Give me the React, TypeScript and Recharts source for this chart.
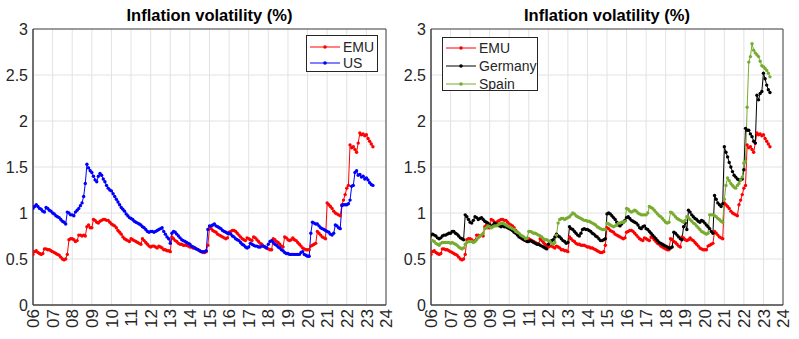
import React from 'react';
import { LineChart, Line, XAxis, YAxis, CartesianGrid, Legend, ReferenceArea } from 'recharts';

// Monthly observations, Jan 2006 .. May 2023
const START_YEAR = 2006;
const xTicks = [2006, 2007, 2008, 2009, 2010, 2011, 2012, 2013, 2014, 2015, 2016, 2017, 2018, 2019, 2020, 2021, 2022, 2023, 2024];
const yTicks = [0, 0.5, 1, 1.5, 2, 2.5, 3];
const TITLE = 'Inflation volatility (%)';

const emu = [
  0.55, 0.58, 0.59, 0.57, 0.56, 0.55, 0.56, 0.61, 0.61, 0.60, 0.60, 0.59,
  0.58, 0.57, 0.56, 0.55, 0.54, 0.52, 0.50, 0.49, 0.50, 0.55, 0.71, 0.72,
  0.72, 0.71, 0.69, 0.70, 0.76, 0.76, 0.75, 0.76, 0.75, 0.85, 0.87, 0.84,
  0.84, 0.93, 0.92, 0.90, 0.89, 0.91, 0.92, 0.93, 0.93, 0.92, 0.92, 0.90,
  0.88, 0.87, 0.86, 0.84, 0.81, 0.79, 0.77, 0.74, 0.72, 0.71, 0.70, 0.69,
  0.72, 0.71, 0.70, 0.69, 0.68, 0.67, 0.66, 0.72, 0.70, 0.68, 0.66, 0.64,
  0.63, 0.64, 0.64, 0.63, 0.62, 0.64, 0.63, 0.62, 0.60, 0.60, 0.59, 0.59,
  0.58, 0.74, 0.72, 0.70, 0.69, 0.67, 0.66, 0.66, 0.65, 0.65, 0.65, 0.64,
  0.63, 0.63, 0.62, 0.62, 0.61, 0.60, 0.59, 0.58, 0.57, 0.57, 0.58, 0.65,
  0.84, 0.83, 0.81, 0.80, 0.79, 0.77, 0.76, 0.75, 0.74, 0.73, 0.72, 0.73,
  0.79, 0.80, 0.81, 0.81, 0.80, 0.78, 0.76, 0.74, 0.72, 0.71, 0.70, 0.73,
  0.72, 0.71, 0.70, 0.74, 0.73, 0.71, 0.69, 0.67, 0.66, 0.64, 0.63, 0.62,
  0.61, 0.60, 0.60, 0.72, 0.71, 0.69, 0.68, 0.66, 0.64, 0.63, 0.74, 0.73,
  0.71, 0.70, 0.71, 0.73, 0.71, 0.70, 0.68, 0.66, 0.64, 0.62, 0.61, 0.60,
  0.60, 0.60, 0.64, 0.65, 0.66, 0.67, 0.80, 0.78, 0.76, 0.74, 0.73, 0.72,
  1.11, 1.09, 1.07, 1.05, 1.02, 1.00, 0.99, 0.98, 0.97, 1.09, 1.14, 1.20,
  1.27, 1.30, 1.74, 1.71, 1.72, 1.69, 1.66, 1.76, 1.87, 1.85, 1.86, 1.84,
  1.85, 1.81, 1.78, 1.75, 1.72,
];

const us = [
  1.05, 1.07, 1.09, 1.07, 1.05, 1.04, 1.02, 1.01, 1.06, 1.05, 1.03, 1.02,
  1.00, 0.99, 0.97, 0.96, 0.95, 0.93, 0.91, 0.90, 0.88, 1.01, 1.00, 0.98,
  0.98, 0.97, 1.01, 1.03, 1.05, 1.08, 1.11, 1.18, 1.32, 1.53, 1.49, 1.46,
  1.44, 1.40, 1.36, 1.34, 1.40, 1.43, 1.41, 1.37, 1.34, 1.30, 1.27, 1.25,
  1.24, 1.21, 1.18, 1.15, 1.12, 1.09, 1.06, 1.04, 1.02, 0.99, 0.97, 0.95,
  0.94, 0.93, 0.91, 0.90, 0.89, 0.88, 0.87, 0.85, 0.84, 0.82, 0.80, 0.79,
  0.80, 0.80, 0.79, 0.80, 0.81, 0.82, 0.83, 0.84, 0.80, 0.77, 0.74, 0.72,
  0.67, 0.78, 0.80, 0.79, 0.77, 0.75, 0.73, 0.71, 0.70, 0.69, 0.68, 0.67,
  0.66, 0.64, 0.63, 0.62, 0.61, 0.60, 0.59, 0.58, 0.58, 0.58, 0.59, 0.82,
  0.86, 0.86, 0.87, 0.88, 0.86, 0.85, 0.84, 0.83, 0.81, 0.80, 0.79, 0.78,
  0.78, 0.77, 0.75, 0.74, 0.72, 0.71, 0.70, 0.68, 0.66, 0.65, 0.63, 0.62,
  0.63, 0.67, 0.66, 0.65, 0.64, 0.64, 0.63, 0.63, 0.64, 0.64, 0.63, 0.62,
  0.66, 0.69, 0.70, 0.68, 0.66, 0.65, 0.63, 0.62, 0.60, 0.59, 0.57, 0.56,
  0.56, 0.55, 0.55, 0.55, 0.55, 0.55, 0.55, 0.55, 0.57, 0.58, 0.55, 0.54,
  0.53, 0.53, 0.78, 0.90, 0.89, 0.88, 0.88, 0.86, 0.84, 0.83, 0.82, 0.81,
  0.80, 0.79, 0.77, 0.76, 0.78, 0.87, 0.86, 0.84, 0.83, 1.08, 1.09, 1.09,
  1.09, 1.10, 1.14, 1.29, 1.30, 1.44, 1.46, 1.41, 1.42, 1.39, 1.40, 1.37,
  1.38, 1.36, 1.33, 1.31, 1.30,
];

const germany = [
  0.76, 0.77, 0.76, 0.75, 0.73, 0.72, 0.73, 0.75, 0.76, 0.76, 0.77, 0.78,
  0.78, 0.80, 0.80, 0.78, 0.77, 0.75, 0.73, 0.72, 0.71, 0.98, 0.96, 0.93,
  0.90, 0.89, 0.92, 0.96, 0.95, 0.93, 0.94, 0.95, 0.93, 0.91, 0.90, 0.89,
  0.87, 0.85, 0.87, 0.89, 0.88, 0.87, 0.86, 0.85, 0.86, 0.85, 0.85, 0.84,
  0.83, 0.82, 0.81, 0.79, 0.78, 0.76, 0.74, 0.73, 0.72, 0.71, 0.70, 0.69,
  0.69, 0.70, 0.69, 0.68, 0.67, 0.66, 0.66, 0.65, 0.64, 0.63, 0.62, 0.61,
  0.66, 0.68, 0.70, 0.71, 0.74, 0.77, 0.75, 0.74, 0.72, 0.70, 0.69, 0.67,
  0.68, 0.85, 0.83, 0.82, 0.80, 0.78, 0.76, 0.75, 0.78, 0.82, 0.83, 0.82,
  0.82, 0.81, 0.80, 0.78, 0.77, 0.75, 0.74, 0.72, 0.70, 0.70, 0.71, 0.72,
  0.99, 1.00, 0.99, 0.97, 0.95, 0.93, 0.90, 0.87, 0.86, 0.88, 0.90, 0.92,
  0.95, 0.96, 0.94, 0.92, 0.91, 0.90, 0.89, 0.87, 0.84, 0.83, 0.85, 0.86,
  0.83, 0.82, 0.80, 0.78, 0.76, 0.74, 0.72, 0.70, 0.68, 0.67, 0.66, 0.65,
  0.64, 0.63, 0.62, 0.62, 0.63, 0.79, 0.78, 0.76, 0.74, 0.72, 0.71, 0.85,
  0.89, 0.82, 1.03, 1.01, 0.98, 0.96, 0.94, 0.93, 0.91, 0.90, 0.92, 0.91,
  0.89, 0.87, 0.85, 0.83, 0.80, 0.78, 1.19, 1.15, 1.11, 1.09, 1.07, 1.10,
  1.72, 1.66, 1.61, 1.55, 1.50, 1.45, 1.41, 1.39, 1.37, 1.36, 1.36, 1.37,
  1.47, 1.92, 1.90, 1.90, 1.86, 1.83, 1.78, 1.76, 2.28, 2.23, 2.30, 2.32,
  2.52, 2.46, 2.39, 2.34, 2.31,
];

const spain = [
  0.71, 0.70, 0.69, 0.67, 0.66, 0.65, 0.67, 0.68, 0.68, 0.68, 0.68, 0.68,
  0.67, 0.68, 0.67, 0.66, 0.65, 0.63, 0.62, 0.61, 0.62, 0.66, 0.68, 0.69,
  0.69, 0.69, 0.68, 0.69, 0.71, 0.73, 0.75, 0.76, 0.78, 0.83, 0.84, 0.86,
  0.85, 0.84, 0.85, 0.86, 0.86, 0.87, 0.88, 0.89, 0.89, 0.88, 0.87, 0.86,
  0.85, 0.84, 0.83, 0.82, 0.80, 0.79, 0.78, 0.76, 0.75, 0.74, 0.72, 0.73,
  0.80, 0.80, 0.79, 0.78, 0.78, 0.77, 0.76, 0.75, 0.74, 0.72, 0.71, 0.71,
  0.70, 0.69, 0.67, 0.66, 0.68, 0.76, 0.89, 0.93, 0.94, 0.94, 0.93, 0.94,
  0.95, 0.96, 0.98, 1.00, 0.99, 0.97, 0.96, 0.95, 0.94, 0.93, 0.92, 0.92,
  0.91, 0.91, 0.90, 0.89, 0.88, 0.87, 0.85, 0.84, 0.83, 0.82, 0.82, 0.82,
  0.89, 0.88, 0.87, 0.86, 0.85, 0.86, 0.87, 0.89, 0.89, 0.90, 0.90, 0.91,
  1.05, 1.04, 1.02, 1.01, 1.02, 1.03, 1.02, 1.00, 0.99, 0.98, 0.98, 0.98,
  0.98, 1.00, 1.07, 1.06, 1.05, 1.03, 1.01, 0.99, 0.97, 0.96, 0.94, 0.92,
  0.90, 0.89, 0.90, 1.01, 1.00, 0.98, 0.96, 0.94, 0.93, 0.92, 0.91, 0.90,
  0.92, 0.96, 0.95, 0.93, 0.91, 0.89, 0.88, 0.86, 0.84, 0.82, 0.80, 0.79,
  0.78, 0.77, 0.78, 0.98, 0.98, 0.98, 0.97, 0.96, 0.94, 0.93, 0.91, 0.90,
  1.15, 1.30, 1.38, 1.35, 1.32, 1.30, 1.28, 1.27, 1.30, 1.32, 1.36, 1.39,
  1.54, 1.56, 2.15, 2.64, 2.70, 2.84, 2.77, 2.74, 2.72, 2.70, 2.65, 2.60,
  2.59, 2.57, 2.55, 2.52, 2.48,
];

const rows = emu.map((v, i) => ({
  t: START_YEAR + i / 12,
  emu: v,
  us: us[i],
  germany: germany[i],
  spain: spain[i],
}));

const COLORS = { emu: '#ff0000', us: '#0000ff', germany: '#000000', spain: '#77ac30' };
const NAMES = { emu: 'EMU', us: 'US', germany: 'Germany', spain: 'Spain' };

const FONT = '"Liberation Sans", Arial, Helvetica, sans-serif';
const AXIS_COLOR = '#444444';
const TEXT_COLOR = '#262626';
const GRID_COLOR = '#e2e2e2';

const XTick = (props: any) => {
  const { x, y, payload } = props;
  const label = String(payload.value % 100).padStart(2, '0');
  return (
    <g transform={`translate(${x},${y}) rotate(-90)`}>
      <text x={0} y={0} dy="0.36em" textAnchor="end" fontSize={17} fill={TEXT_COLOR} fontFamily={FONT}>
        {label}
      </text>
    </g>
  );
};

const makeLegend = (keys: string[], width: number, height: number, rowY: number[]) => () => (
  <div style={{ width, height, border: '1px solid #262626', background: '#fff', boxSizing: 'border-box', position: 'relative' }}>
    <svg width={width} height={height} style={{ position: 'absolute', left: -1, top: -1 }}>
      {keys.map((k, i) => (
        <g key={k}>
          <line x1={4} x2={34} y1={rowY[i]} y2={rowY[i]} stroke={(COLORS as any)[k]} strokeWidth={1} />
          <circle cx={19} cy={rowY[i]} r={1.8} fill={(COLORS as any)[k]} />
          <text x={37} y={rowY[i]} dy="0.35em" fontSize={14} fill={TEXT_COLOR} fontFamily={FONT}>
            {(NAMES as any)[k]}
          </text>
        </g>
      ))}
    </svg>
  </div>
);

const Panel = ({ keys, width, yAxisWidth, rightMargin, legend }: any) => (
  <LineChart width={width} height={339} data={rows} margin={{ top: 29, right: rightMargin, bottom: 0, left: 0 }}>
    <CartesianGrid stroke={GRID_COLOR} strokeWidth={1} />
    <XAxis
      dataKey="t"
      type="number"
      domain={[2006, 2024]}
      ticks={xTicks}
      interval={0}
      height={34}
      tickSize={0}
      tickMargin={4}
      tickLine={false}
      axisLine={{ stroke: AXIS_COLOR }}
      tick={<XTick />}
      allowDataOverflow
    />
    <YAxis
      type="number"
      domain={[0, 3]}
      ticks={yTicks}
      interval={0}
      width={yAxisWidth}
      tickSize={0}
      tickMargin={5}
      tickLine={false}
      axisLine={{ stroke: AXIS_COLOR }}
      tick={{ fontSize: 16, fill: TEXT_COLOR, fontFamily: FONT }}
      tickFormatter={(v: number) => String(v)}
    />
    <ReferenceArea x1={2006} x2={2024} y1={0} y2={3} fill="none" stroke={AXIS_COLOR} strokeWidth={1} ifOverflow="visible" />
    {keys.map((k: string) => (
      <Line
        key={k}
        type="linear"
        dataKey={k}
        name={(NAMES as any)[k]}
        stroke={(COLORS as any)[k]}
        strokeWidth={1}
        dot={{ r: 1.7, fill: (COLORS as any)[k], stroke: 'none' }}
        isAnimationActive={false}
      />
    ))}
    <Legend
      layout="vertical"
      align="center"
      verticalAlign="middle"
      content={legend.content}
      wrapperStyle={{ position: 'absolute', left: legend.left, top: legend.top, width: legend.width, height: legend.height }}
    />
  </LineChart>
);

const titleStyle = (left: number, width: number): React.CSSProperties => ({
  position: 'absolute',
  left,
  width,
  top: 5,
  textAlign: 'center',
  fontSize: 16.5,
  fontWeight: 'bold',
  lineHeight: '20px',
  color: '#000',
  fontFamily: FONT,
  whiteSpace: 'nowrap',
});

export default function App() {
  return (
    <div style={{ position: 'absolute', left: 0, top: 0, width: 799, height: 339, background: '#fff', fontFamily: FONT }}>
      <div style={{ position: 'absolute', left: 0, top: 0, width: 400, height: 339 }}>
        <Panel
          keys={['emu', 'us']}
          width={400}
          yAxisWidth={33}
          rightMargin={14}
          legend={{ left: 306, top: 35, width: 72, height: 37, content: makeLegend(['emu', 'us'], 72, 37, [12, 28]) }}
        />
        <div style={titleStyle(33, 353)}>{TITLE}</div>
      </div>
      <div style={{ position: 'absolute', left: 400, top: 0, width: 399, height: 339 }}>
        <Panel
          keys={['emu', 'germany', 'spain']}
          width={399}
          yAxisWidth={31}
          rightMargin={16}
          legend={{ left: 42, top: 37, width: 96, height: 54, content: makeLegend(['emu', 'germany', 'spain'], 96, 54, [11, 29, 47]) }}
        />
        <div style={titleStyle(31, 352)}>{TITLE}</div>
      </div>
    </div>
  );
}
